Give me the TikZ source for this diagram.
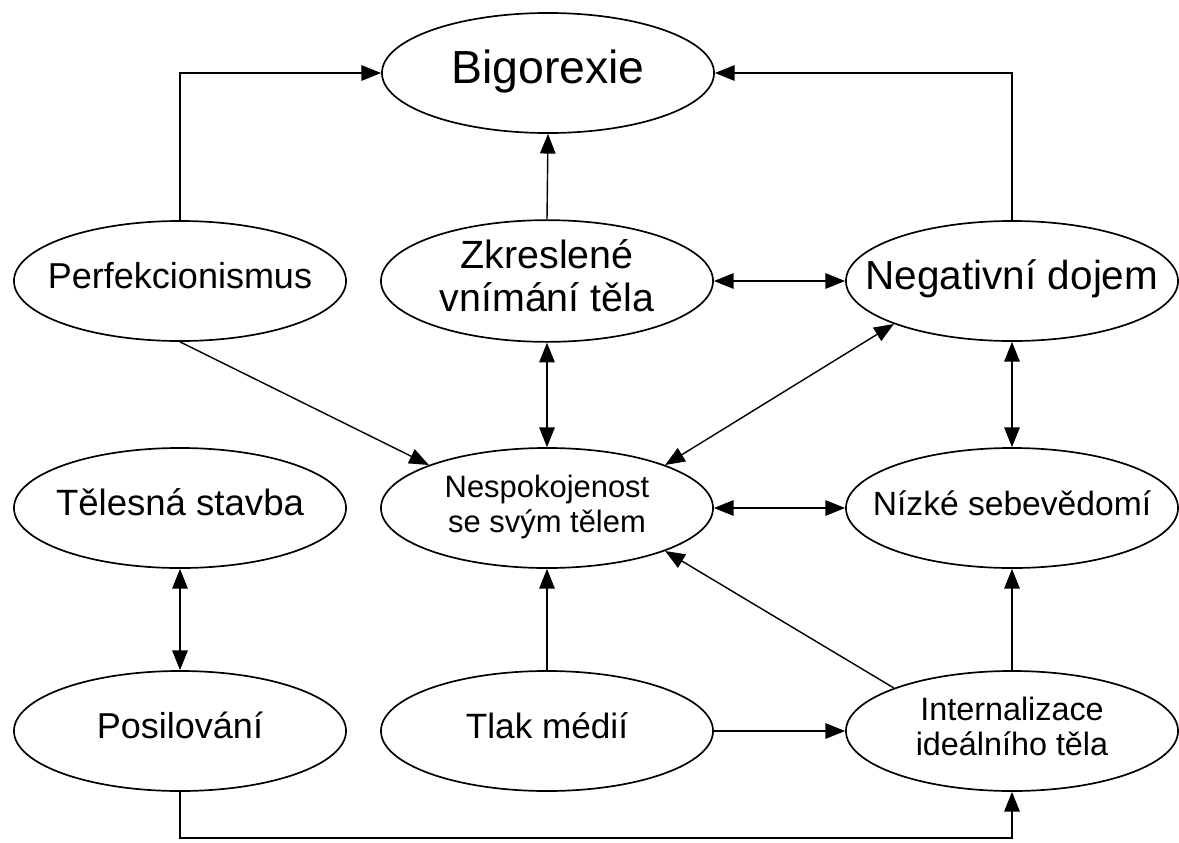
\documentclass[tikz,border=0pt]{standalone}
\usepackage{fontspec}
\setmainfont{Liberation Sans}
\usetikzlibrary{shapes.geometric,arrows.meta}
\newcommand{\lbl}[1]{\makebox[0pt]{\begin{tabular}{@{}c@{}}#1\end{tabular}}}
\newcommand{\fs}[2]{\fontsize{#1}{#2}\selectfont}

\begin{document}
\begin{tikzpicture}[x=0.025cm,y=-0.025cm,
   bubble/.style={draw,ellipse,line width=1.2pt,minimum width=8.3cm,minimum height=3cm,inner sep=0pt},
   arr/.style={line width=1pt,-{Triangle[length=14pt,width=11pt]}},
   dbl/.style={line width=1pt,{Triangle[length=14pt,width=11pt]}-{Triangle[length=14pt,width=11pt]}}]
   \useasboundingbox (0,0) rectangle (1179,843);

   % top
   \node[bubble,font=\fs{33}{36}] (big) at (548,73) {\lbl{Bigorexie}};

   % row 1
   \node[bubble,font=\fs{25.6}{28}] (perf) at (180,281) {\lbl{Perfekcionismus}};
   \node[bubble,font=\fs{28}{30.6}] (zkr) at (547,281) {\lbl{Zkreslené\\vnímání těla}};
   \node[bubble,font=\fs{28.8}{31}] (neg) at (1012,281) {\lbl{Negativní dojem}};

   % row 2
   \node[bubble,font=\fs{26}{28}] (tel) at (180,508) {\lbl{Tělesná stavba}};
   \node[bubble,font=\fs{22}{25}] (nesp) at (547,508) {\lbl{Nespokojenost\\se svým tělem}};
   \node[bubble,font=\fs{23.9}{26}] (niz) at (1012,508) {\lbl{Nízké sebevědomí}};

   % row 3
   \node[bubble,font=\fs{25.6}{28}] (pos) at (180,731) {\lbl{Posilování}};
   \node[bubble,font=\fs{25}{28}] (tlak) at (547,731) {\lbl{Tlak médií}};
   \node[bubble,font=\fs{23}{25}] (intl) at (1012,731) {\lbl{Internalizace\\ideálního těla}};

   \coordinate (base) at (0,838);

   \draw[arr] (perf.north) |- (big.west);
   \draw[arr] (neg.north) |- (big.east);
   \draw[arr] (zkr.north) -- (big.south);
   \draw[dbl] (zkr.east) -- (neg.west);

   \draw[arr] (perf.south) -- (nesp.160);
   \draw[dbl] (zkr.south) -- (nesp.north);
   \draw[dbl] (nesp.20) -- (neg.200);
   \draw[dbl] (neg.south) -- (niz.north);
   \draw[dbl] (nesp.east) -- (niz.west);

   \draw[dbl] (tel.south) -- (pos.north);
   \draw[arr] (tlak.north) -- (nesp.south);
   \draw[arr] (intl.160) -- (nesp.340);
   \draw[arr] (intl.north) -- (niz.south);
   \draw[arr] (tlak.east) -- (intl.west);
   \draw[arr] (pos.south) -- (pos.south |- base) -| (intl.south);

 \end{tikzpicture}
\end{document}
